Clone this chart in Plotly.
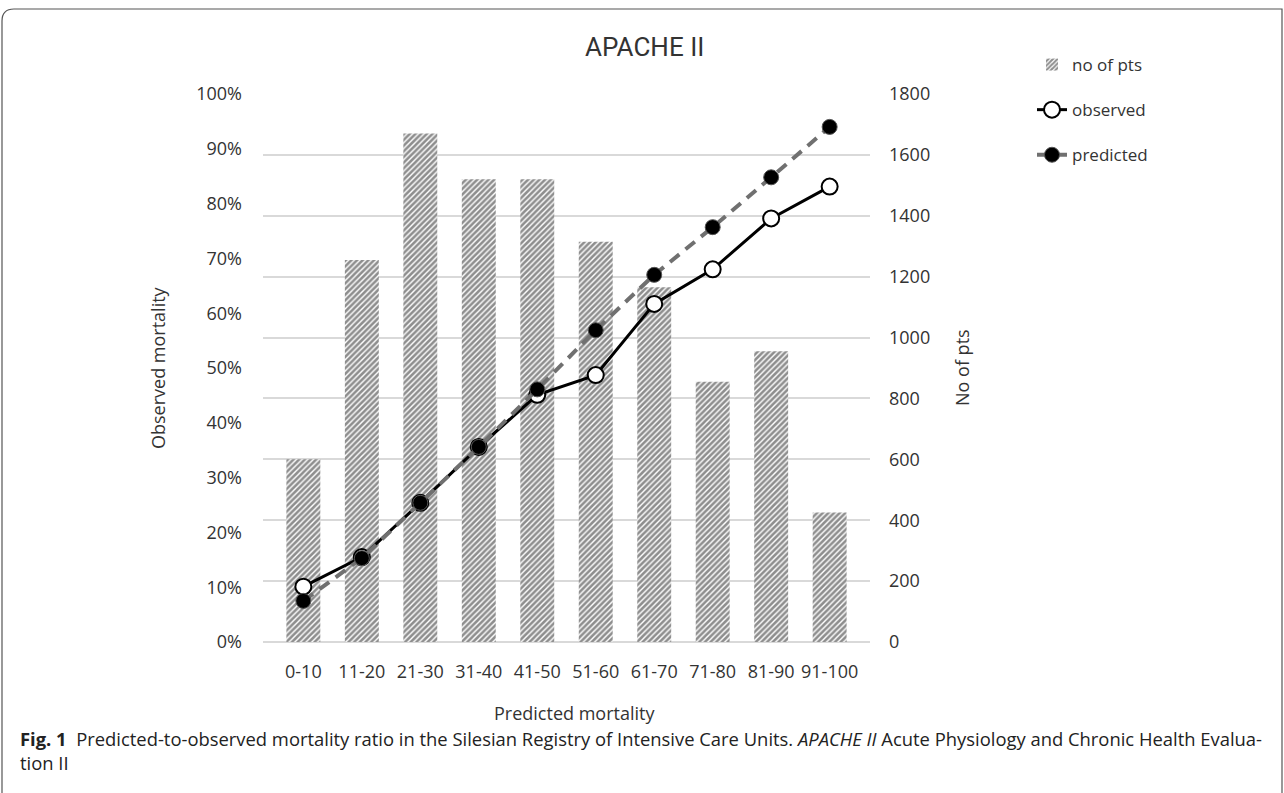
import plotly.graph_objects as go

categories = ["0-10", "11-20", "21-30", "31-40", "41-50", "51-60", "61-70", "71-80", "81-90", "91-100"]
n_pts = [600, 1255, 1670, 1520, 1520, 1315, 1165, 855, 955, 425]
observed = [0.101, 0.155, 0.254, 0.356, 0.451, 0.487, 0.617, 0.680, 0.773, 0.831]
predicted = [0.075, 0.153, 0.254, 0.356, 0.461, 0.569, 0.670, 0.757, 0.848, 0.940]

W, H = 1284, 793
PL, PR, PT, PB = 263, 870, 94, 642


def px(x):
    return (x - PL) / (PR - PL)


def py(y):
    return (PB - y) / (PB - PT)


TICK_FONT = dict(family="Open Sans", size=18, color="#333333")
TEXT = "#333333"

fig = go.Figure()
fig.add_trace(go.Bar(
    x=categories, y=n_pts, name="no of pts", yaxis="y", legendgroup="a",
    marker=dict(color="white", line=dict(width=0),
                pattern=dict(shape="/", fgcolor="#1e1e1e", bgcolor="white", size=4, solidity=0.65)),
))
fig.add_trace(go.Scatter(
    x=categories, y=observed, name="observed", yaxis="y2", legendgroup="b",
    mode="lines+markers",
    line=dict(color="black", width=3),
    marker=dict(symbol="circle", size=16, color="white", line=dict(color="black", width=2)),
))
fig.add_trace(go.Scatter(
    x=categories, y=predicted, name="predicted", yaxis="y2", legendgroup="c",
    mode="lines+markers",
    line=dict(color="#707070", width=4, dash="12px,8px"),
    marker=dict(symbol="circle", size=15, color="black", line=dict(color="#555555", width=1)),
))

fig.update_layout(
    width=W, height=H,
    margin=dict(l=PL, r=W - PR, t=PT, b=H - PB, autoexpand=False),
    paper_bgcolor="white", plot_bgcolor="white",
    bargap=0.42,
    showlegend=True,
    legend=dict(x=px(1032), y=py(47), xanchor="left", yanchor="top",
                font=dict(family="Open Sans", size=17, color=TEXT),
                tracegroupgap=20, bgcolor="rgba(0,0,0,0)"),
    xaxis=dict(type="category", showgrid=False, zeroline=False, showline=False, ticks="",
               tickfont=TICK_FONT, ticklabelstandoff=17, automargin=False),
    yaxis=dict(side="right", range=[0, 1800], dtick=200, showgrid=True,
               gridcolor="#d9d9d9", gridwidth=1.5, zeroline=True, zerolinecolor="#d9d9d9",
               zerolinewidth=1.5, ticks="", tickfont=TICK_FONT, ticklabelstandoff=18,
               showline=False, automargin=False),
    yaxis2=dict(overlaying="y", side="left", range=[0, 1], dtick=0.1, tickformat=".0%",
                showgrid=False, zeroline=False, ticks="", tickfont=TICK_FONT,
                ticklabelstandoff=20, showline=False, automargin=False),
)

annotations = [
    dict(text="APACHE II", x=px(644), y=py(47), xref="paper", yref="paper",
         showarrow=False, xanchor="center", yanchor="middle",
         font=dict(family="Roboto", size=26, color=TEXT)),
    dict(text="Observed mortality", x=px(158), y=py(368), xref="paper", yref="paper",
         showarrow=False, textangle=-90, xanchor="center", yanchor="middle",
         font=dict(family="Open Sans", size=18, color=TEXT)),
    dict(text="No of pts", x=px(962), y=py(368), xref="paper", yref="paper",
         showarrow=False, textangle=-90, xanchor="center", yanchor="middle",
         font=dict(family="Open Sans", size=18, color=TEXT)),
    dict(text="Predicted mortality", x=px(574), y=py(713), xref="paper", yref="paper",
         showarrow=False, xanchor="center", yanchor="middle",
         font=dict(family="Open Sans", size=18, color=TEXT)),
    dict(text="<b>Fig. 1</b>  Predicted-to-observed mortality ratio in the Silesian Registry of Intensive Care Units. "
              "<i>APACHE II</i> Acute Physiology and Chronic Health Evalua-",
         x=px(18), y=py(738), xref="paper", yref="paper",
         showarrow=False, xanchor="left", yanchor="middle", align="left",
         font=dict(family="Open Sans", size=18.4, color="#222222")),
    dict(text="tion II",
         x=px(18), y=py(762), xref="paper", yref="paper",
         showarrow=False, xanchor="left", yanchor="middle", align="left",
         font=dict(family="Open Sans", size=18.4, color="#222222")),
]
fig.update_layout(annotations=annotations)

# figure frame with rounded top-left corner
x0, y0, x1, y1, r = 2, 9, 1282, 800, 12
path = (f"M {px(x0)},{py(y1)} L {px(x0)},{py(y0 + r)} "
        f"Q {px(x0)},{py(y0)} {px(x0 + r)},{py(y0)} "
        f"L {px(x1)},{py(y0)} L {px(x1)},{py(y1)}")
fig.add_shape(type="path", path=path, xref="paper", yref="paper",
              line=dict(color="#555555", width=1.2), layer="above")

fig.write_html("out.html", config={"displayModeBar": False},
               post_script="document.body.style.margin='0px';")
